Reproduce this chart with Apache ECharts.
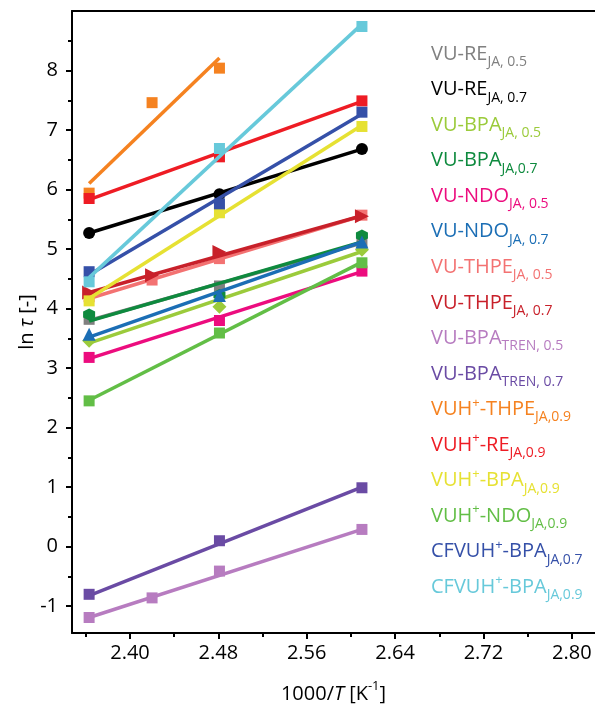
<!DOCTYPE html>
<html><head><meta charset="utf-8">
<script src="https://cdn.jsdelivr.net/npm/echarts@6/dist/echarts.min.js"></script>
<style>html,body{margin:0;padding:0;background:#fff}#c{width:595px;height:707px}</style>
</head><body><div id="c"></div>
<script>
// x positions (1000/T, K^-1)
const xThree = [2.363, 2.481, 2.610];
const xFour = [2.363, 2.420, 2.481, 2.610];
const xOrange = [2.363, 2.420, 2.481];

// measured ln(tau) values
const reJA05 = [3.82, 4.38, 5.12];
const reJA07 = [5.27, 5.92, 6.68];
const bpaJA05 = [3.46, 4.03, 4.99];
const bpaJA07 = [3.90, 4.23, 5.23];
const ndoJA05 = [3.18, 3.80, 4.63];
const ndoJA07 = [3.57, 4.22, 5.12];
const thpeJA05 = [4.20, 4.48, 4.84, 5.57];
const thpeJA07 = [4.27, 4.56, 4.95, 5.55];
const bpaTREN05 = [-1.19, -0.86, -0.41, 0.29];
const bpaTREN07 = [-0.80, 0.10, 0.99];
const vuhTHPE09 = [5.94, 7.46, 8.04];
const vuhRE09 = [5.85, 6.55, 7.49];
const vuhBPA09 = [4.13, 5.61, 7.06];
const vuhNDO09 = [2.45, 3.59, 4.77];
const cfBPA07 = [4.62, 5.76, 7.30];
const cfBPA09 = [4.45, 6.69, 8.74];

// linear fit line values at first and last x
const fitReJA05 = [3.80, 5.10];
const fitReJA07 = [5.27, 6.68];
const fitBpaJA05 = [3.42, 4.96];
const fitBpaJA07 = [3.79, 5.12];
const fitNdoJA05 = [3.16, 4.62];
const fitNdoJA07 = [3.52, 5.12];
const fitThpeJA05 = [4.17, 5.56];
const fitThpeJA07 = [4.27, 5.56];
const fitTren05 = [-1.19, 0.29];
const fitTren07 = [-0.82, 1.00];
const fitVuhThpe = [6.10, 8.21];
const fitVuhRe = [5.83, 7.48];
const fitVuhBpa = [4.17, 7.08];
const fitVuhNdo = [2.46, 4.78];
const fitCf07 = [4.57, 7.27];
const fitCf09 = [4.52, 8.78];

// legend label parts
const legPrefix = ['VU-RE','VU-RE','VU-BPA','VU-BPA','VU-NDO','VU-NDO','VU-THPE','VU-THPE','VU-BPA','VU-BPA','VUH','VUH','VUH','VUH','CFVUH','CFVUH'];
const legSup = ['','','','','','','','','','','+','+','+','+','+','+'];
const legRest = ['','','','','','','','','','','-THPE','-RE','-BPA','-NDO','-BPA','-BPA'];
const legSub = ['JA, 0.5','JA, 0.7','JA, 0.5','JA,0.7','JA, 0.5','JA, 0.7','JA, 0.5','JA, 0.7','TREN, 0.5','TREN, 0.7','JA,0.9','JA,0.9','JA,0.9','JA,0.9','JA,0.7','JA,0.9'];

// tick values
const xTicks = [2.40, 2.48, 2.56, 2.64, 2.72, 2.80];
const xMinor = [2.36, 2.44, 2.52, 2.60, 2.68, 2.76];
const yTicks = [-1, 0, 1, 2, 3, 4, 5, 6, 7, 8];
const yMinor = [-0.5, 0.5, 1.5, 2.5, 3.5, 4.5, 5.5, 6.5, 7.5, 8.5];

const FONT = 'Open Sans';
const HEX = 'path://M0,-10 L8.66,-5 L8.66,5 L0,10 L-8.66,5 L-8.66,-5 Z';

const defs = [
  {x: xThree, y: reJA05, fit: fitReJA05, color: '#808080', symbol: 'rect', size: 11},
  {x: xThree, y: reJA07, fit: fitReJA07, color: '#000000', symbol: 'circle', size: 12},
  {x: xThree, y: bpaJA05, fit: fitBpaJA05, color: '#9BCB3B', symbol: 'diamond', size: 14},
  {x: xThree, y: bpaJA07, fit: fitBpaJA07, color: '#0E8A3E', symbol: HEX, size: 12},
  {x: xThree, y: ndoJA05, fit: fitNdoJA05, color: '#EC0C7E', symbol: 'rect', size: 11},
  {x: xThree, y: ndoJA07, fit: fitNdoJA07, color: '#1B6EB5', symbol: 'triangle', size: 13},
  {x: xFour, y: thpeJA05, fit: fitThpeJA05, color: '#F37272', symbol: 'rect', size: 11},
  {x: xFour, y: thpeJA07, fit: fitThpeJA07, color: '#C8202A', symbol: 'triangle', size: 14, rotate: -90},
  {x: xFour, y: bpaTREN05, fit: fitTren05, color: '#B77CC0', symbol: 'rect', size: 11},
  {x: xThree, y: bpaTREN07, fit: fitTren07, color: '#6A4BA4', symbol: 'rect', size: 11},
  {x: xOrange, y: vuhTHPE09, fit: fitVuhThpe, color: '#F58220', symbol: 'rect', size: 11},
  {x: xThree, y: vuhRE09, fit: fitVuhRe, color: '#EE1C24', symbol: 'rect', size: 11},
  {x: xThree, y: vuhBPA09, fit: fitVuhBpa, color: '#E6E133', symbol: 'rect', size: 11},
  {x: xThree, y: vuhNDO09, fit: fitVuhNdo, color: '#62BE46', symbol: 'rect', size: 11},
  {x: xThree, y: cfBPA07, fit: fitCf07, color: '#3550A8', symbol: 'rect', size: 11},
  {x: xThree, y: cfBPA09, fit: fitCf09, color: '#67C9DA', symbol: 'rect', size: 11}
];

const series = [];
defs.forEach((d, i) => {
  const name = legPrefix[i] + legSup[i] + legRest[i] + ' ' + legSub[i];
  series.push({
    type: 'line', name: name, xAxisIndex: 0, yAxisIndex: 0,
    data: [[d.x[0], d.fit[0]], [d.x[d.x.length - 1], d.fit[1]]],
    symbol: 'none', silent: true,
    lineStyle: {color: d.color, width: 3.5}, z: 2 + i * 0.01
  });
  series.push({
    type: 'scatter', name: name, xAxisIndex: 0, yAxisIndex: 0,
    data: d.x.map((xv, k) => [xv, d.y[k]]),
    symbol: d.symbol, symbolSize: d.size, symbolRotate: d.rotate || 0,
    itemStyle: {color: d.color, opacity: 1}, z: 2 + i * 0.01 + 0.005
  });
});

const legendRich = {
  m: {fontSize: 20, fontFamily: FONT, padding: [5, 0, 0, 0], verticalAlign: 'top'},
  p: {fontSize: 13, fontFamily: FONT, padding: [2, 0, 0, 0], verticalAlign: 'top'},
  s: {fontSize: 14, fontFamily: FONT, padding: [16, 0, 0, 0], verticalAlign: 'top'}
};
const graphics = defs.map((d, i) => {
  let t = '{m|' + legPrefix[i] + '}';
  if (legSup[i]) t += '{p|' + legSup[i] + '}';
  if (legRest[i]) t += '{m|' + legRest[i] + '}';
  t += '{s|' + legSub[i] + '}';
  return {
    type: 'text', x: 431, y: 39 + i * 35.55, silent: true,
    style: {text: t, rich: legendRich, fill: d.color, align: 'left', verticalAlign: 'top', fontFamily: FONT, fontSize: 20}
  };
});

const xMin = 2.3475, xMax = 2.821, yMin = -1.45, yMax = 9;
const axisLine = {show: true, onZero: false, lineStyle: {color: '#000', width: 2}};

const option = {
  animation: false,
  backgroundColor: '#fff',
  grid: {left: 72, right: 0, top: 11, bottom: 74, containLabel: false, outerBoundsMode: 'none'},
  xAxis: [
    {
      type: 'value', min: xMin, max: xMax, position: 'bottom',
      axisLine: axisLine,
      axisTick: {show: true, length: 6, lineStyle: {color: '#000', width: 2}, customValues: xTicks},
      axisLabel: {customValues: xTicks, formatter: v => v.toFixed(2), fontSize: 20, color: '#000', fontFamily: FONT, margin: 10},
      splitLine: {show: false},
      name: '{n|1000/}{i|T}{n| [K}{s|-1}{n|]}',
      nameLocation: 'middle', nameGap: 46, nameMoveOverlap: false,
      nameTextStyle: {
        color: '#000', fontFamily: FONT, fontSize: 20,
        rich: {
          n: {fontSize: 20, fontFamily: FONT, color: '#000', padding: [5, 0, 0, 0], verticalAlign: 'top'},
          i: {fontSize: 20, fontFamily: FONT, fontStyle: 'italic', color: '#000', padding: [5, 0, 0, 0], verticalAlign: 'top'},
          s: {fontSize: 13, fontFamily: FONT, color: '#000', padding: [1, 0, 0, 0], verticalAlign: 'top'}
        }
      }
    },
    {
      type: 'value', min: xMin, max: xMax, position: 'bottom',
      axisLine: {show: false, onZero: false},
      axisTick: {show: true, length: 4, lineStyle: {color: '#000', width: 2}, customValues: xMinor},
      axisLabel: {show: false}, splitLine: {show: false}
    },
    {
      type: 'value', min: xMin, max: xMax, position: 'top',
      axisLine: axisLine, axisTick: {show: false}, axisLabel: {show: false}, splitLine: {show: false}
    }
  ],
  yAxis: [
    {
      type: 'value', min: yMin, max: yMax, position: 'left',
      axisLine: axisLine,
      axisTick: {show: true, length: 6, lineStyle: {color: '#000', width: 2}, customValues: yTicks},
      axisLabel: {customValues: yTicks, fontSize: 20, color: '#000', fontFamily: FONT, margin: 14},
      splitLine: {show: false},
      name: '{n|ln }{i|τ}{n| [-]}',
      nameLocation: 'middle', nameGap: 35, nameMoveOverlap: false,
      nameTextStyle: {
        color: '#000', fontFamily: FONT, fontSize: 20,
        rich: {
          n: {fontSize: 20, fontFamily: FONT, color: '#000'},
          i: {fontSize: 20, fontFamily: FONT, fontStyle: 'italic', color: '#000'}
        }
      }
    },
    {
      type: 'value', min: yMin, max: yMax, position: 'left',
      axisLine: {show: false, onZero: false},
      axisTick: {show: true, length: 4, lineStyle: {color: '#000', width: 2}, customValues: yMinor},
      axisLabel: {show: false}, splitLine: {show: false}
    }
  ],
  graphic: graphics,
  series: series
};

const chart = echarts.init(document.getElementById('c'));
chart.setOption(option);
</script>
</body></html>
